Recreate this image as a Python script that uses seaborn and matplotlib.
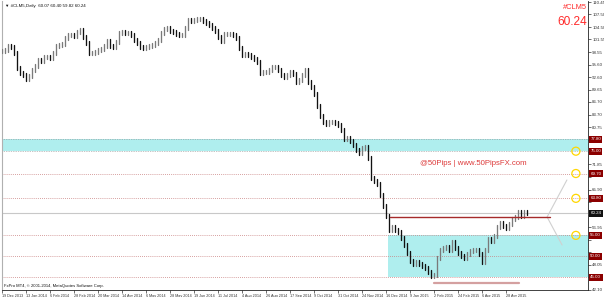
import numpy as np
import pandas as pd
import matplotlib
matplotlib.use('Agg')
import matplotlib.pyplot as plt
import matplotlib.transforms as mtransforms
from matplotlib.patches import Ellipse, Rectangle
import seaborn as sns

# ---- data (one bar every 2 trading days) ----
close = [
    98.81, 99.04, 100.00, 99.76, 98.33, 94.77, 93.58, 93.11, 92.16, 92.87,
    94.29, 95.24, 96.67, 96.43, 97.38, 97.38, 97.14, 98.33, 100.00, 100.23,
    100.47, 101.90, 102.61, 102.61, 102.37, 103.32, 103.80, 102.13, 100.71, 98.33,
    98.33, 98.57, 99.04, 99.28, 100.00, 101.18, 100.00, 99.76, 100.95, 103.08,
    103.32, 103.08, 103.08, 102.61, 101.42, 100.71, 99.76, 99.52, 99.76, 100.00,
    100.23, 100.71, 101.42, 103.08, 104.03, 104.27, 103.56, 103.32, 102.85, 102.61,
    102.61, 104.27, 106.17, 105.94, 106.17, 106.41, 106.41, 105.94, 105.46, 104.99,
    104.27, 103.56, 102.13, 101.18, 102.85, 102.85, 102.85, 102.61, 101.90, 99.52,
    97.86, 98.10, 97.86, 97.38, 96.91, 96.19, 93.58, 93.82, 93.82, 94.29,
    95.01, 95.01, 94.29, 93.11, 92.63, 93.11, 93.82, 93.34, 91.44, 91.92,
    93.11, 94.29, 91.44, 90.26, 88.59, 85.74, 83.37, 81.94, 81.46, 81.94,
    81.94, 81.70, 81.23, 80.04, 77.90, 78.14, 77.42, 76.47, 75.29, 74.57,
    75.76, 76.00, 73.38, 68.63, 67.92, 67.21, 64.59, 61.98, 59.60, 56.28,
    56.99, 56.28, 55.80, 54.37, 52.71, 50.81, 48.91, 48.20, 48.67, 48.20,
    47.72, 47.25, 46.30, 45.35, 45.58, 49.62, 51.52, 52.00, 52.24, 51.52,
    53.42, 52.00, 50.81, 50.10, 49.62, 50.57, 51.29, 51.52, 51.52, 50.57,
    48.67, 51.52, 54.14, 53.66, 54.85, 56.99, 57.94, 57.23, 56.75, 57.71,
    58.89, 59.37, 60.55, 59.60, 60.55, 60.24,
]
date_labels = [
    "19 Dec 2013", "13 Jan 2014", "6 Feb 2014", "28 Feb 2014", "20 Mar 2014",
    "14 Apr 2014", "6 May 2014", "28 May 2014", "19 Jun 2014", "11 Jul 2014",
    "4 Aug 2014", "26 Aug 2014", "17 Sep 2014", "9 Oct 2014", "31 Oct 2014",
    "24 Nov 2014", "16 Dec 2014", "9 Jan 2015", "2 Feb 2015", "24 Feb 2015",
    "6 Apr 2015", "28 Apr 2015",
]
y_ticks = [110.45, 107.50, 104.50, 101.55, 98.55, 95.60, 92.60, 89.65, 86.70,
           83.70, 80.75, 77.75, 74.80, 71.85, 68.85, 65.90, 62.90, 59.95,
           56.95, 54.00, 51.00, 48.05, 45.05, 42.10]
band_levels = [75.00, 77.80]
dotted_levels = [69.70, 63.80, 55.00, 50.00, 45.00]
box_levels = [45.00, 55.00]
neckline = 59.30
support_line = 43.75
current_price = 60.24
circle_levels = [75.00, 69.70, 63.80, 55.00]
symbol = "#CLM5"
header = "\u25bc #CLM5,Daily  60.07 60.40 59.82 60.24"
footer = "FxPro MT4, \u00a9 2001-2014, MetaQuotes Software Corp."
watermark = "@50Pips | www.50PipsFX.com"

# ---- style ----
sns.set_style('white')
plt.rcParams['font.family'] = ['Liberation Sans', 'DejaVu Sans']

fig = plt.figure(figsize=(6.04, 2.97), dpi=100)
ax = fig.add_axes([2 / 604, 7 / 297, 586 / 604, 289 / 297])

n = len(close)
x_right = 586 / 3
ax.set_xlim(0, x_right)
ax.set_ylim(42.02, 110.69)

# bars: vertical segments from previous close to close
pad = 0.4
rows = []
for k in range(n):
    prev = close[k - 1] if k > 0 else close[k]
    lo = min(prev, close[k]) - pad
    hi = max(prev, close[k]) + pad
    d = 'up' if close[k] >= prev else 'down'
    rows.append((k, lo, k, d))
    rows.append((k, hi, k, d))
bars = pd.DataFrame(rows, columns=['x', 'y', 'unit', 'dir'])

cyan = '#afeeee'
ax.axhspan(band_levels[0], band_levels[1], color=cyan, zorder=0, lw=0)
ax.add_patch(Rectangle((128.7, box_levels[0]), x_right - 128.7,
                       box_levels[1] - box_levels[0], color=cyan, lw=0, zorder=0))

for lv in band_levels:
    ax.axhline(lv, color='#8a8a8a', ls=(0, (1, 1.5)), lw=0.5, zorder=1)
for lv in dotted_levels:
    ax.axhline(lv, color='#c98080', ls=(0, (1, 1.5)), lw=0.6, zorder=1)
ax.axhline(current_price, color='#c8c8c8', lw=0.8, zorder=1)

sns.lineplot(data=bars, x='x', y='y', units='unit', estimator=None, hue='dir',
             palette={'up': '#7a7a7a', 'down': '#111111'}, sort=False,
             legend=False, lw=0.95, ax=ax, zorder=3)

ax.plot([129.3, 182.7], [neckline, neckline], color='#a52a2a', lw=1.0, zorder=4)
ax.plot([144, 172.3], [support_line, support_line], color='#d4a0a0', lw=1.6, zorder=4)
ax.plot([188.3, 181.7, 186.7], [68.16, 59.37, 52.71], color='#d0d0d0', lw=0.8, zorder=2)

for lv in circle_levels:
    ax.add_patch(Ellipse((191.3, lv), 2.7, 1.9, fill=False, ec='#ffd700',
                         lw=0.9, zorder=5))

# texts
ax.text(0.998, 0.976, symbol, transform=ax.transAxes, ha='right', va='center',
        fontsize=5.4, color='#ff2a2a')
ax.text(0.998, 0.927, f"{current_price:.2f}", transform=ax.transAxes, ha='right',
        va='center', fontsize=8.6, color='#ff2a2a')
ax.text(157, 71.96, watermark, ha='center', va='center', fontsize=5.6,
        color='#dd3a3a', zorder=6)
ax.text(3 / 586, 0.983, header, transform=ax.transAxes, ha='left', va='center',
        fontsize=3.2, color='#111111')
ax.text(2 / 586, 0.013, footer, transform=ax.transAxes, ha='left', va='center',
        fontsize=3.0, color='#111111')

# right-hand price boxes
marked = band_levels + dotted_levels + [current_price]
trans = mtransforms.blended_transform_factory(ax.transAxes, ax.transData)
for lv in band_levels + dotted_levels:
    ax.text(1.004, lv, f"{lv:.2f}", transform=trans, ha='left', va='center',
            fontsize=3.2, color='white', clip_on=False, zorder=10,
            bbox=dict(boxstyle='square,pad=0.3', fc='#8b0000', ec='none'))
ax.text(1.004, current_price, f"{current_price:.2f}", transform=trans, ha='left',
        va='center', fontsize=3.2, color='white', clip_on=False, zorder=10,
        bbox=dict(boxstyle='square,pad=0.3', fc='#111111', ec='none'))

# axes: tick labels hidden where a price box covers them (as in the terminal)
ax.yaxis.tick_right()
ax.set_yticks(y_ticks)
ylabels = []
for v in y_ticks:
    covered = any(abs(v - m) < 1.25 for m in marked)
    ylabels.append('' if covered else f"{v:.2f}")
ax.set_yticklabels(ylabels)
ax.tick_params(axis='y', labelsize=3.2, length=2, width=0.5, pad=1,
               colors='#333333', right=True, left=False)
xt = [8 * i for i in range(len(date_labels))]
ax.set_xticks(xt)
ax.set_xticklabels(date_labels, ha='left')
ax.tick_params(axis='x', labelsize=2.7, length=2, width=0.5, pad=0.8,
               colors='#333333', bottom=True)
ax.set_xlabel('')
ax.set_ylabel('')

ax.spines['top'].set_visible(False)
ax.spines['left'].set_color('#b0b0b0')
ax.spines['left'].set_linewidth(0.8)
for s in ['bottom', 'right']:
    ax.spines[s].set_color('#222222')
    ax.spines[s].set_linewidth(0.6)

fig.savefig('out.png', dpi=100, facecolor='white')
